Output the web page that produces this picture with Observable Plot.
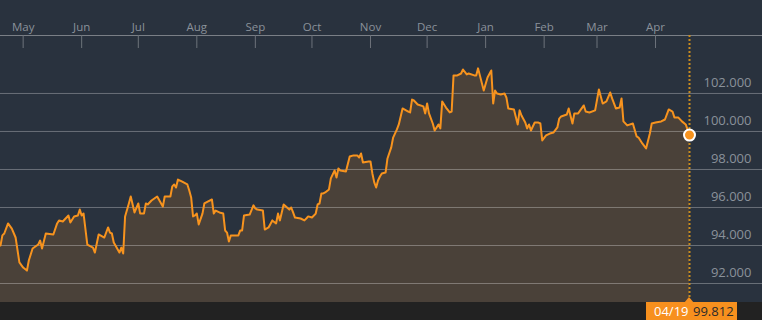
<!DOCTYPE html>
<html>
<head>
<meta charset="utf-8">
<script src="https://cdn.jsdelivr.net/npm/d3@7"></script>
<script src="https://cdn.jsdelivr.net/npm/@observablehq/plot@0.6"></script>
<style>
  html, body { margin: 0; padding: 0; background: #29323e; }
  #chart svg { display: block; }
</style>
</head>
<body>
<div id="chart"></div>
<script>
const dates = [
"2018-04-19","2018-04-20","2018-04-21","2018-04-23","2018-04-25","2018-04-27","2018-04-29","2018-05-01","2018-05-03","2018-05-04",
"2018-05-06","2018-05-09","2018-05-10","2018-05-11","2018-05-13","2018-05-17","2018-05-19","2018-05-20","2018-05-22","2018-05-25",
"2018-05-26","2018-05-28","2018-05-30","2018-05-31","2018-06-01","2018-06-02","2018-06-04","2018-06-07","2018-06-08","2018-06-10",
"2018-06-13","2018-06-15","2018-06-16","2018-06-17","2018-06-18","2018-06-21","2018-06-22","2018-06-23","2018-06-24","2018-06-26",
"2018-06-27","2018-06-29","2018-07-01","2018-07-02","2018-07-04","2018-07-05","2018-07-06","2018-07-08","2018-07-11","2018-07-14",
"2018-07-15","2018-07-18","2018-07-19","2018-07-20","2018-07-21","2018-07-22","2018-07-24","2018-07-27","2018-07-28","2018-07-29",
"2018-07-30","2018-07-31","2018-08-01","2018-08-02","2018-08-04","2018-08-05","2018-08-07","2018-08-09","2018-08-10","2018-08-11",
"2018-08-13","2018-08-15","2018-08-16","2018-08-17","2018-08-18","2018-08-19","2018-08-23","2018-08-24","2018-08-25","2018-08-26",
"2018-08-29","2018-08-31","2018-09-01","2018-09-02","2018-09-05","2018-09-06","2018-09-08","2018-09-10","2018-09-12","2018-09-13",
"2018-09-14","2018-09-16","2018-09-19","2018-09-20","2018-09-21","2018-09-22","2018-09-25","2018-09-27","2018-09-28","2018-09-29",
"2018-10-01","2018-10-03","2018-10-04","2018-10-05","2018-10-06","2018-10-07","2018-10-08","2018-10-10","2018-10-11","2018-10-13",
"2018-10-14","2018-10-15","2018-10-16","2018-10-19","2018-10-21","2018-10-23","2018-10-25","2018-10-26","2018-10-27","2018-10-28",
"2018-10-31","2018-11-01","2018-11-02","2018-11-03","2018-11-04","2018-11-05","2018-11-06","2018-11-07","2018-11-09","2018-11-10",
"2018-11-12","2018-11-13","2018-11-15","2018-11-16","2018-11-18","2018-11-21","2018-11-22","2018-11-23","2018-11-24","2018-11-26",
"2018-11-29","2018-11-30","2018-12-01","2018-12-02","2018-12-04","2018-12-05","2018-12-07","2018-12-08","2018-12-09","2018-12-11",
"2018-12-13","2018-12-14","2018-12-15","2018-12-17","2018-12-19","2018-12-20","2018-12-22","2018-12-23","2018-12-26","2018-12-27",
"2018-12-28","2018-12-31","2019-01-02","2019-01-04","2019-01-05","2019-01-06","2019-01-07","2019-01-09","2019-01-11","2019-01-12",
"2019-01-13","2019-01-16","2019-01-18","2019-01-19","2019-01-20","2019-01-22","2019-01-23","2019-01-24","2019-01-25","2019-01-27",
"2019-01-29","2019-01-30","2019-01-31","2019-02-02","2019-02-04","2019-02-06","2019-02-08","2019-02-09","2019-02-10","2019-02-13",
"2019-02-14","2019-02-16","2019-02-17","2019-02-19","2019-02-22","2019-02-23","2019-02-25","2019-02-28","2019-03-02","2019-03-04",
"2019-03-06","2019-03-08","2019-03-09","2019-03-11","2019-03-13","2019-03-14","2019-03-15","2019-03-17","2019-03-20","2019-03-22",
"2019-03-23","2019-03-25","2019-03-27","2019-03-29","2019-03-30","2019-04-01","2019-04-04","2019-04-06","2019-04-08","2019-04-10",
"2019-04-11","2019-04-13","2019-04-15","2019-04-17","2019-04-19"
];
const values = [
94.00,94.53,94.63,95.16,94.89,94.42,93.11,92.84,92.68,93.21,
93.84,94.05,94.26,93.84,94.63,94.58,95.16,95.32,95.26,95.58,
95.21,95.53,95.58,95.89,95.58,95.68,94.05,93.89,93.63,94.58,
94.42,94.95,94.68,94.63,94.16,93.63,93.89,93.58,95.53,96.21,
96.58,95.74,96.21,95.68,95.68,96.21,96.16,96.37,96.58,96.05,
96.58,96.58,97.11,97.21,97.05,97.47,97.37,97.21,96.89,96.53,
95.53,95.58,95.68,95.11,95.68,96.21,96.32,96.42,95.68,95.84,
95.74,95.68,94.79,94.68,94.21,94.53,94.53,94.79,94.79,95.58,
95.63,96.11,95.95,95.89,95.84,94.84,94.95,95.32,95.16,95.68,
95.32,96.16,95.89,96.00,95.74,95.47,95.42,95.32,95.42,95.53,
95.47,95.68,96.16,96.21,96.74,96.74,96.79,96.95,97.53,97.95,
97.58,98.05,97.95,97.89,98.68,98.74,98.74,98.63,98.84,98.37,
98.42,98.42,97.79,97.32,97.05,97.42,97.63,97.79,97.84,98.58,
99.16,99.68,100.11,100.37,101.21,101.05,101.00,101.68,101.63,101.42,
101.32,100.95,101.47,100.95,100.42,100.05,100.37,100.16,101.58,101.26,
101.00,101.05,102.95,102.95,103.05,103.26,103.00,103.05,102.95,102.95,
103.32,102.16,102.84,103.21,101.47,102.16,102.00,101.95,102.00,101.79,
101.21,101.16,100.37,101.11,100.84,100.47,100.16,100.37,100.05,100.47,
100.47,100.42,99.53,99.79,99.89,99.95,100.21,100.68,100.79,100.89,
101.21,100.42,100.95,100.95,101.37,101.05,101.00,101.11,102.21,101.47,
101.58,102.05,101.74,101.21,101.26,101.74,100.53,100.32,100.42,99.74,
99.68,99.37,99.11,99.89,100.42,100.47,100.53,100.63,101.16,101.05,
100.74,100.74,100.53,100.37,99.812
];
const monthStarts = ["2018-05-01","2018-06-01","2018-07-01","2018-08-01","2018-09-01","2018-10-01",
                     "2018-11-01","2018-12-01","2019-01-01","2019-02-01","2019-03-01","2019-04-01"];
const monthLabels = ["May","Jun","Jul","Aug","Sep","Oct","Nov","Dec","Jan","Feb","Mar","Apr"];
const yTicks = [92, 94, 96, 98, 100, 102];
const yDomain = [91, 105.05];
const lastLabelDate = "04/19";
const lastLabelValue = "99.812";

const data = dates.map((d, i) => ({date: new Date(d + "T00:00:00Z"), value: values[i]}));
const months = monthStarts.map((d, i) => ({date: new Date(d + "T00:00:00Z"), label: monthLabels[i]}));
const last = data[data.length - 1];

const W = 762, H = 320, MR = 73;
const font = "'Open Sans', 'DejaVu Sans', sans-serif";

const chart = Plot.plot({
  width: W, height: H,
  marginLeft: 0, marginRight: MR, marginTop: 35, marginBottom: 18,
  style: {
    background: "linear-gradient(to bottom, #29323e 302px, #222222 302px)",
    fontFamily: font, overflow: "visible"
  },
  x: {type: "utc", domain: [data[0].date, last.date], axis: null},
  y: {domain: yDomain, axis: null},
  marks: [
    Plot.areaY(data, {x: "date", y: "value", fill: "#4a4139", clip: true}),
    Plot.ruleY(yTicks, {stroke: "#ffffff", strokeOpacity: 0.3, strokeWidth: 1, insetRight: -MR}),
    Plot.frame({anchor: "top", stroke: "#7a7f86", insetRight: -MR}),
    Plot.ruleX(months, {x: "date", stroke: "#6d737b", strokeWidth: 1, insetBottom: 254}),
    Plot.ruleX([last], {x: "date", stroke: "#c98b1e", strokeOpacity: 1, strokeWidth: 2, strokeDasharray: "2,2"}),
    Plot.lineY(data, {x: "date", y: "value", stroke: "#f7931e", strokeWidth: 2, strokeLinejoin: "round"}),
    Plot.dot([last], {x: "date", y: "value", r: 5.5, fill: "#f7931e", stroke: "#ffffff", strokeWidth: 2}),
    Plot.text(months, {x: "date", text: "label", frameAnchor: "top", dy: -13, fill: "#8a919a", fontSize: 11.5}),
    Plot.text(yTicks, {y: d => d, text: d => d.toFixed(3), frameAnchor: "right", textAnchor: "end",
                       dx: 62, dy: -11, fill: "#8a919a", fontSize: 13})
  ]
});

// value tag at the bottom, positioned via the chart's own x scale
const sx = chart.scale("x");
const px = sx.apply(last.date);
const svg = d3.select(chart);
const g = svg.append("g").attr("text-anchor", "start");
const boxTop = H - 18;
g.append("path")
  .attr("d", `M${px - 5},${boxTop + 1} L${px},${boxTop - 5} L${px + 5},${boxTop + 1} Z`)
  .attr("fill", "#f7901e");
g.append("rect")
  .attr("x", px - 43).attr("y", boxTop).attr("width", 91).attr("height", 18)
  .attr("fill", "#f7901e");
g.append("text")
  .attr("x", px - 35).attr("y", boxTop + 14)
  .attr("fill", "#ffffff").attr("font-size", 13).attr("font-family", font)
  .text(lastLabelDate);
g.append("text")
  .attr("x", px + 4).attr("y", boxTop + 14)
  .attr("fill", "#2b2b2b").attr("font-size", 13).attr("font-family", font)
  .text(lastLabelValue);

document.getElementById("chart").append(chart);
</script>
</body>
</html>
